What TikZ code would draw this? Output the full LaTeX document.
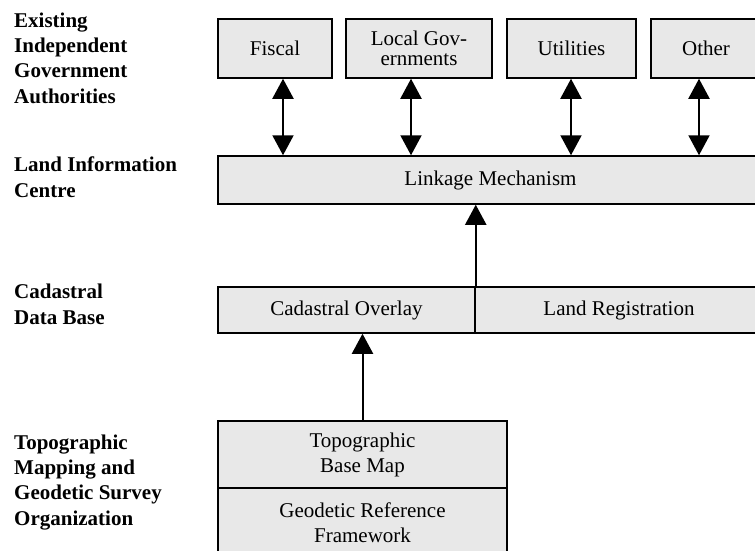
\documentclass[tikz,border=0pt]{standalone}
\usepackage{fontspec}
\setmainfont{Liberation Serif}
\usetikzlibrary{arrows.meta}
\definecolor{boxgray}{HTML}{E8E8E8}
\tikzset{
  unitbox/.style={draw, fill=boxgray, line width=1.5pt, rectangle, inner sep=0pt,
    align=center, font=\fontsize{21}{25}\selectfont},
  tierlabel/.style={anchor=base west, inner sep=0pt, align=left,
    font=\fontsize{21}{25.3}\selectfont\bfseries},
  link/.style={line width=2pt, -{Triangle[width=21pt,length=20pt]}},
  duallink/.style={line width=2pt, {Triangle[width=21pt,length=20pt]}-{Triangle[width=21pt,length=20pt]}}
}
\begin{document}
\begin{tikzpicture}[x=1pt, y=-1pt]
  \clip (0,0) rectangle (755,551);

  % tier captions (placed by the baseline of their last line)
  \node[tierlabel] (capA) at (14,103) {Existing\\Independent\\Government\\Authorities};
  \node[tierlabel] (capB) at (14,197) {Land Information\\Centre};
  \node[tierlabel] (capC) at (14,324) {Cadastral\\Data Base};
  \node[tierlabel] (capD) at (14,525) {Topographic\\Mapping and\\Geodetic Survey\\Organization};

  % authorities
  \node[unitbox, minimum width=114pt, minimum height=59pt] (fiscal) at (275,48.5) {Fiscal};
  \node[unitbox, minimum width=146pt, minimum height=59pt,
        font=\fontsize{21}{20}\selectfont] (localgov) at (419,48.5) {Local Gov-\\ernments};
  \node[unitbox, minimum width=129pt, minimum height=59pt] (utilities) at (571.5,48.5) {Utilities};
  \node[unitbox, minimum width=110pt, minimum height=59pt] (other) at (706,48.5) {Other};

  % land information centre
  \node[unitbox, minimum width=545pt, minimum height=48pt] (linkage) at (490.5,180) {Linkage Mechanism};

  % cadastral data base
  \node[unitbox, minimum width=257pt, minimum height=46pt] (overlay) at (346.5,310) {Cadastral Overlay};
  \node[unitbox, minimum width=288pt, minimum height=46pt] (landreg) at (619,310) {Land Registration};

  % mapping and survey
  \node[unitbox, minimum width=289pt, minimum height=67pt] (topo) at (362.5,454.5) {Topographic\\Base Map};
  \node[unitbox, minimum width=289pt, minimum height=69pt] (geodetic) at (362.5,522.5) {Geodetic Reference\\Framework};

  % connectors
  \draw[duallink] ([xshift=8pt]fiscal.south) -- ([xshift=8pt]fiscal.south |- linkage.north);
  \draw[duallink] ([xshift=-8pt]localgov.south) -- ([xshift=-8pt]localgov.south |- linkage.north);
  \draw[duallink] ([xshift=-0.5pt]utilities.south) -- ([xshift=-0.5pt]utilities.south |- linkage.north);
  \draw[duallink] ([xshift=-7pt]other.south) -- ([xshift=-7pt]other.south |- linkage.north);
  \draw[link] (overlay.north east) -- (overlay.north east |- linkage.south);
  \draw[link] (topo.north) -- (topo.north |- overlay.south);
\end{tikzpicture}
\end{document}
